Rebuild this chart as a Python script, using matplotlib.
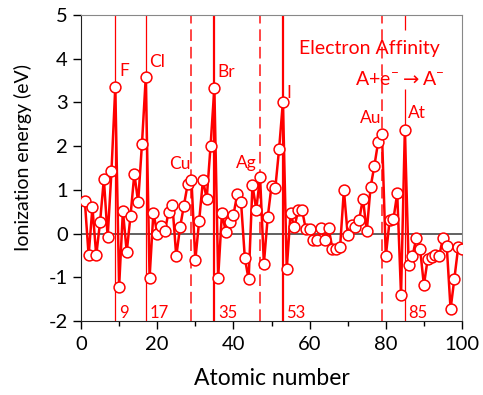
import matplotlib
matplotlib.use("Agg")
import matplotlib.pyplot as plt
from matplotlib.ticker import MultipleLocator

plt.rcParams['font.family'] = ['Lato', 'DejaVu Sans']
plt.rcParams['axes.unicode_minus'] = False

atomic_number = list(range(1, 101))
affinity = [
    0.75, -0.50, 0.60, -0.50, 0.26, 1.25, -0.08, 1.43, 3.36, -1.22,
    0.52, -0.42, 0.41, 1.37, 0.72, 2.05, 3.58, -1.01, 0.48, 0.00,
    0.18, 0.05, 0.50, 0.65, -0.52, 0.14, 0.64, 1.13, 1.22, -0.61,
    0.28, 1.22, 0.80, 2.00, 3.33, -1.01, 0.48, 0.03, 0.26, 0.42,
    0.90, 0.73, -0.56, -1.05, 1.11, 0.55, 1.30, -0.69, 0.37, 1.09,
    1.04, 1.94, 3.02, -0.82, 0.47, 0.14, 0.53, 0.55, 0.10, 0.10,
    -0.15, -0.15, 0.12, -0.15, 0.12, -0.35, -0.35, -0.31, 1.00, -0.03,
    0.20, 0.15, 0.31, 0.80, 0.05, 1.06, 1.55, 2.10, 2.28, -0.52,
    0.30, 0.33, 0.92, -1.41, 2.38, -0.71, -0.52, -0.10, -0.35, -1.18,
    -0.58, -0.54, -0.50, -0.52, -0.10, -0.29, -1.73, -1.03, -0.31, -0.35,
]

halogen_z = [9, 17, 35, 53, 85]
coinage_z = [29, 47, 79]
element_labels = ["F", "Cl", "Cu", "Br", "Ag", "I", "Au", "At"]
element_label_pos = [(9.95, 3.61), (17.8, 3.82), (23.0, 1.48), (35.9, 3.59),
                     (40.8, 1.50), (53.9, 3.09), (73.3, 2.52), (85.9, 2.64)]

red = '#ff0000'
fig = plt.figure(figsize=(4.83, 3.95), dpi=100)
ax = fig.add_axes([81 / 483, 1 - 321 / 395, 381 / 483, 306 / 395])

ax.axhline(0, color='#555555', lw=1.3, zorder=1)

for z in halogen_z:
    lw = 1.6 if z in (35, 53) else 0.9
    if z == 85:
        ax.vlines(z, 4.66, 5, color=red, lw=lw, zorder=2)
        ax.vlines(z, -2, 3.3, color=red, lw=lw, zorder=2)
    else:
        ax.axvline(z, color=red, lw=lw, zorder=2)
    ax.text(z + 0.95, -1.93, str(z), color=red, fontsize=12, ha='left', va='baseline')
for z in coinage_z:
    ax.axvline(z, color=red, lw=1.2, ls=(0, (7, 3.5)), alpha=0.85, zorder=2)

ax.plot(atomic_number, affinity, color=red, lw=1.8, marker='o', ms=7.8,
        mfc='white', mec=red, mew=1.1, zorder=4)

for lab, (x, y) in zip(element_labels, element_label_pos):
    ax.text(x, y, lab, color=red, fontsize=12.5, ha='left', va='baseline', zorder=5)

ax.text(75.8, 4.11, "Electron Affinity", color=red, fontsize=14, ha='center',
        va='baseline', zorder=5)
ax.text(83.6, 3.41, r"A+e$^{\mathregular{-}}$$\rightarrow$A$^{\mathregular{-}}$", color=red,
        fontsize=14, ha='center', va='baseline', zorder=5)

ax.set_xlim(0, 100)
ax.set_ylim(-2, 5)
ax.xaxis.set_major_locator(MultipleLocator(20))
ax.xaxis.set_minor_locator(MultipleLocator(10))
ax.yaxis.set_major_locator(MultipleLocator(1))
ax.tick_params(axis='both', which='major', direction='out', length=6, width=1,
               labelsize=14.5, colors='black')
ax.tick_params(axis='x', which='major', pad=5)
ax.tick_params(axis='x', which='minor', direction='out', length=3.5, width=1)
for s in ['top', 'right']:
    ax.spines[s].set_color('#888888')
for s in ['left', 'bottom']:
    ax.spines[s].set_color('#222222')

ax.set_xlabel("Atomic number", fontsize=16.5)
ax.xaxis.set_label_coords(0.5, -0.155)
ax.set_ylabel("Ionization energy (eV)", fontsize=14)
ax.yaxis.set_label_coords(-0.129, 0.533)

fig.savefig("out.png", dpi=100)
